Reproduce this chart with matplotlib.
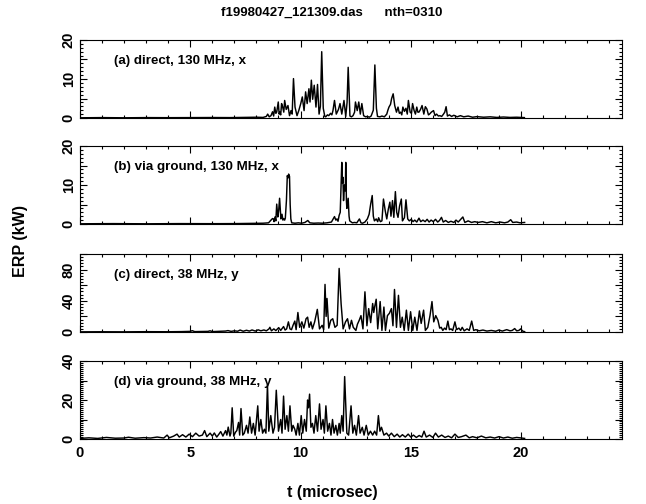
import numpy as np
import matplotlib
matplotlib.use('Agg')
import matplotlib.pyplot as plt
from matplotlib.ticker import MultipleLocator, FuncFormatter

plt.rcParams['font.family'] = ['Liberation Sans', 'DejaVu Sans']
plt.rcParams['font.weight'] = 'bold'

TITLE = 'f19980427_121309.das      nth=0310'
T_MAX = 24.576  # 1024 samples

labels = ['(a) direct, 130 MHz, x', '(b) via ground, 130 MHz, x',
          '(c) direct, 38 MHz, y', '(d) via ground, 38 MHz, y']
ylims = [20, 20, 100, 40]

# (t [microsec], ERP [kW])
pts_a = [(0.0, 0.05), (1.0, 0.1), (2.0, 0.05), (3.0, 0.1), (4.0, 0.08), (5.0, 0.1), (6.0, 0.12), (6.8, 0.1),
         (7.5, 0.15), (8.0, 0.2), (8.3, 0.15), (8.45, 0.4), (8.51, 1.0), (8.58, 0.3), (8.66, 0.6), (8.73, 1.6),
         (8.78, 0.5), (8.83, 2.8), (8.88, 1.2), (8.92, 1.5), (8.99, 4.1), (9.03, 1.0), (9.06, 1.5), (9.10, 0.8),
         (9.14, 3.7), (9.19, 2.8), (9.24, 1.5), (9.28, 4.5), (9.35, 2.2), (9.43, 3.2), (9.50, 0.6), (9.57, 1.9),
         (9.62, 1.0), (9.68, 10.1), (9.75, 2.8), (9.84, 0.6), (9.92, 1.9), (10.01, 3.7), (10.08, 5.4), (10.16, 1.9),
         (10.23, 6.7), (10.30, 3.7), (10.38, 7.5), (10.43, 4.1), (10.49, 9.7), (10.55, 4.8), (10.62, 8.4),
         (10.70, 2.8), (10.77, 8.6), (10.84, 1.0), (10.90, 3.0), (10.96, 17.0), (11.03, 2.5), (11.10, 0.4),
         (11.14, 0.3), (11.22, 0.8), (11.28, 0.6), (11.36, 1.2), (11.42, 0.8), (11.47, 1.9), (11.54, 4.5),
         (11.62, 1.0), (11.72, 2.2), (11.79, 3.7), (11.87, 1.0), (11.97, 4.5), (12.05, 0.4), (12.11, 4.0),
         (12.16, 13.0), (12.24, 0.5), (12.31, 0.3), (12.38, 0.6), (12.45, 1.5), (12.49, 4.1), (12.57, 1.9),
         (12.64, 4.1), (12.71, 1.0), (12.78, 3.7), (12.86, 0.6), (12.95, 0.3), (13.03, 0.4), (13.12, 0.2),
         (13.20, 0.5), (13.30, 2.0), (13.37, 13.6), (13.44, 2.5), (13.49, 0.4), (13.60, 0.3), (13.69, 0.5),
         (13.80, 0.3), (13.91, 1.0), (13.96, 2.0), (14.01, 2.8), (14.08, 3.5), (14.13, 5.0), (14.20, 6.2),
         (14.27, 3.2), (14.35, 1.5), (14.42, 2.8), (14.48, 1.2), (14.54, 1.5), (14.59, 0.8), (14.64, 2.8),
         (14.71, 1.7), (14.78, 2.5), (14.84, 1.0), (14.89, 4.5), (14.97, 1.5), (15.03, 1.2), (15.08, 3.7),
         (15.15, 1.9), (15.21, 1.0), (15.27, 2.8), (15.32, 1.5), (15.37, 1.5), (15.44, 2.2), (15.51, 3.2),
         (15.59, 1.0), (15.66, 2.9), (15.73, 2.3), (15.80, 0.8), (15.85, 1.0), (15.93, 1.5), (16.03, 1.9),
         (16.10, 0.6), (16.17, 1.0), (16.25, 0.5), (16.32, 0.6), (16.40, 0.4), (16.47, 0.9), (16.54, 1.5),
         (16.60, 2.9), (16.66, 0.5), (16.75, 0.8), (16.85, 0.4), (16.95, 0.7), (17.1, 0.3), (17.25, 0.6),
         (17.4, 0.3), (17.6, 0.5), (17.8, 0.2), (18.0, 0.35), (18.3, 0.2), (18.6, 0.3), (18.9, 0.15),
         (19.2, 0.25), (19.5, 0.15), (19.8, 0.2), (20.15, 0.1)]

pts_b = [(0.0, 0.05), (1.5, 0.1), (3.0, 0.05), (4.5, 0.1), (6.0, 0.08), (7.0, 0.1), (7.8, 0.15), (8.3, 0.2),
         (8.55, 0.3), (8.66, 1.0), (8.73, 1.4), (8.77, 1.3), (8.80, 0.6), (8.84, 1.8), (8.88, 0.8), (8.92, 5.1),
         (8.97, 1.8), (9.01, 3.5), (9.05, 6.6), (9.08, 4.0), (9.11, 1.3), (9.16, 2.5), (9.20, 1.0), (9.24, 1.4),
         (9.28, 1.0), (9.31, 1.5), (9.36, 6.0), (9.40, 12.4), (9.43, 11.8), (9.46, 12.8), (9.50, 12.2),
         (9.53, 5.0), (9.56, 1.3), (9.60, 0.3), (9.75, 0.2), (9.90, 0.3), (10.05, 0.2), (10.20, 0.4),
         (10.33, 0.9), (10.42, 0.3), (10.6, 0.2), (10.8, 0.25), (11.0, 0.2), (11.2, 0.3), (11.4, 0.5),
         (11.54, 1.9), (11.60, 1.0), (11.65, 1.3), (11.70, 0.7), (11.75, 2.2), (11.80, 3.0), (11.87, 15.8),
         (11.90, 10.5), (11.92, 12.0), (11.95, 6.0), (11.97, 8.0), (12.00, 10.0), (12.03, 8.5), (12.05, 15.8),
         (12.08, 6.0), (12.10, 4.0), (12.16, 6.6), (12.20, 2.0), (12.23, 0.8), (12.35, 0.3), (12.45, 0.4),
         (12.55, 0.3), (12.67, 1.3), (12.74, 0.3), (12.81, 0.2), (12.92, 0.5), (13.03, 1.3), (13.11, 2.5),
         (13.18, 5.1), (13.25, 7.3), (13.30, 2.0), (13.35, 0.8), (13.43, 1.3), (13.50, 0.6), (13.54, 1.6),
         (13.62, 0.6), (13.69, 0.8), (13.76, 6.4), (13.84, 3.4), (13.91, 1.3), (13.98, 3.8), (14.05, 5.6),
         (14.10, 2.0), (14.17, 6.0), (14.23, 1.7), (14.30, 8.3), (14.36, 3.0), (14.42, 1.7), (14.49, 4.6),
         (14.57, 6.4), (14.62, 0.8), (14.66, 1.2), (14.71, 1.6), (14.78, 6.2), (14.86, 1.3), (14.93, 0.8),
         (15.02, 1.2), (15.10, 0.6), (15.18, 1.0), (15.27, 0.5), (15.37, 1.5), (15.45, 0.6), (15.55, 1.0),
         (15.65, 0.6), (15.74, 1.2), (15.83, 0.5), (15.92, 1.0), (16.02, 0.6), (16.12, 1.2), (16.22, 0.5),
         (16.30, 0.9), (16.39, 1.7), (16.47, 0.5), (16.58, 0.9), (16.70, 0.4), (16.82, 0.7), (16.95, 0.4),
         (17.05, 1.0), (17.15, 0.5), (17.36, 1.8), (17.45, 0.4), (17.6, 0.8), (17.75, 0.4), (17.9, 0.6),
         (18.05, 0.4), (18.25, 0.6), (18.45, 0.3), (18.65, 0.6), (18.85, 0.3), (19.05, 0.5), (19.25, 0.3),
         (19.4, 0.5), (19.53, 1.1), (19.62, 0.4), (19.8, 0.5), (19.95, 0.3), (20.16, 0.4)]

pts_c = [(0.0, 0.2), (1.0, 0.3), (2.0, 0.2), (3.0, 0.4), (4.0, 0.3), (4.6, 0.5), (5.0, 0.8), (5.09, 1.7),
         (5.2, 0.5), (5.5, 0.6), (5.8, 0.8), (5.9, 1.5), (6.0, 0.5), (6.3, 0.8), (6.6, 1.2), (6.71, 1.8),
         (6.85, 0.8), (7.0, 1.5), (7.15, 1.0), (7.26, 2.5), (7.4, 1.0), (7.55, 2.2), (7.68, 1.2), (7.8, 2.6),
         (7.95, 1.2), (8.08, 2.8), (8.2, 1.5), (8.34, 2.6), (8.45, 1.5), (8.57, 4.0), (8.61, 6.0), (8.68, 1.5),
         (8.79, 4.0), (8.88, 1.8), (9.01, 5.6), (9.1, 2.0), (9.23, 7.0), (9.30, 2.5), (9.37, 4.0), (9.45, 13.0),
         (9.52, 4.0), (9.59, 3.0), (9.66, 8.6), (9.74, 14.0), (9.80, 3.0), (9.88, 25.0), (9.96, 6.0),
         (10.06, 13.0), (10.15, 5.0), (10.25, 17.0), (10.32, 19.0), (10.39, 6.0), (10.47, 13.0), (10.54, 4.0),
         (10.64, 13.0), (10.76, 29.0), (10.86, 4.0), (10.98, 8.6), (11.05, 3.0), (11.11, 61.0), (11.16, 20.0),
         (11.20, 43.0), (11.28, 5.0), (11.37, 15.0), (11.46, 17.0), (11.56, 6.0), (11.66, 8.6), (11.75, 81.5),
         (11.84, 36.0), (11.93, 4.0), (12.04, 13.0), (12.13, 17.0), (12.22, 4.0), (12.31, 15.0), (12.39, 6.0),
         (12.51, 2.0), (12.58, 10.0), (12.66, 15.0), (12.74, 21.0), (12.83, 4.0), (12.92, 51.5), (13.01, 8.0),
         (13.09, 30.0), (13.18, 12.0), (13.27, 36.5), (13.32, 25.0), (13.36, 32.0), (13.43, 42.0), (13.50, 4.0),
         (13.61, 39.0), (13.69, 2.0), (13.78, 32.0), (13.85, 2.0), (13.94, 21.0), (14.03, 24.0), (14.12, 30.0),
         (14.19, 8.0), (14.26, 54.5), (14.35, 6.0), (14.44, 47.0), (14.53, 6.0), (14.61, 19.0), (14.70, 2.0),
         (14.80, 28.0), (14.89, 2.0), (14.99, 26.0), (15.09, 2.0), (15.18, 19.0), (15.28, 2.0), (15.39, 27.0),
         (15.47, 11.0), (15.58, 28.0), (15.66, 2.0), (15.77, 6.0), (15.87, 21.0), (15.96, 39.0), (16.04, 13.0),
         (16.13, 21.0), (16.23, 15.0), (16.31, 5.0), (16.38, 6.0), (16.45, 2.0), (16.53, 5.0), (16.60, 3.0),
         (16.68, 14.0), (16.75, 3.0), (16.82, 4.0), (16.9, 2.0), (17.0, 13.0), (17.08, 3.0), (17.18, 5.0),
         (17.26, 2.0), (17.33, 6.0), (17.42, 1.5), (17.55, 4.0), (17.65, 2.0), (17.76, 14.0), (17.85, 2.0),
         (17.95, 3.0), (18.1, 1.5), (18.27, 2.5), (18.45, 1.2), (18.65, 2.0), (18.85, 1.0), (18.99, 2.5),
         (19.15, 1.2), (19.35, 3.0), (19.5, 1.5), (19.6, 2.0), (19.71, 4.4), (19.8, 1.5), (19.9, 2.0),
         (19.98, 4.0), (20.08, 1.0), (20.16, 0.5)]

pts_d = [(0.0, 0.3), (0.4, 0.6), (0.8, 0.3), (1.2, 0.8), (1.6, 0.4), (2.0, 0.5), (2.2, 0.9), (2.5, 0.4),
         (2.9, 0.7), (3.2, 0.5), (3.5, 1.0), (3.8, 0.5), (3.95, 2.0), (4.05, 0.6), (4.25, 1.5), (4.4, 2.5),
         (4.5, 1.0), (4.65, 2.2), (4.8, 1.0), (4.95, 2.5), (5.1, 1.2), (5.25, 3.0), (5.4, 1.5), (5.55, 2.0),
         (5.65, 4.3), (5.75, 1.2), (5.9, 3.0), (6.0, 1.5), (6.09, 3.1), (6.2, 1.0), (6.3, 2.5), (6.38, 3.8),
         (6.48, 1.5), (6.6, 4.3), (6.66, 2.0), (6.72, 6.1), (6.80, 1.5), (6.84, 3.0), (6.90, 16.0), (6.97, 1.5),
         (7.05, 3.5), (7.11, 4.3), (7.19, 8.5), (7.24, 2.0), (7.30, 15.6), (7.38, 2.0), (7.45, 3.0), (7.55, 7.0),
         (7.62, 3.0), (7.70, 11.3), (7.78, 3.0), (7.86, 8.0), (7.94, 2.0), (8.06, 17.0), (8.12, 4.0),
         (8.20, 10.0), (8.28, 3.0), (8.36, 5.0), (8.43, 3.0), (8.50, 28.0), (8.56, 4.0), (8.65, 12.0),
         (8.75, 3.0), (8.82, 6.0), (8.90, 25.0), (9.00, 4.0), (9.10, 10.0), (9.16, 3.0), (9.23, 22.0),
         (9.30, 5.0), (9.38, 12.0), (9.45, 4.0), (9.52, 17.0), (9.60, 4.0), (9.66, 7.0), (9.74, 5.0),
         (9.80, 2.0), (9.88, 8.0), (9.95, 2.0), (10.03, 12.0), (10.10, 3.0), (10.18, 10.0), (10.26, 4.0),
         (10.32, 20.0), (10.36, 16.0), (10.41, 23.0), (10.47, 6.0), (10.54, 8.0), (10.61, 3.0), (10.69, 12.0),
         (10.77, 4.0), (10.86, 18.0), (10.93, 5.0), (11.02, 10.0), (11.08, 3.0), (11.15, 17.0), (11.23, 4.0),
         (11.31, 8.0), (11.38, 2.0), (11.45, 10.0), (11.52, 3.0), (11.60, 7.0), (11.67, 2.0), (11.75, 8.0),
         (11.80, 3.0), (11.87, 12.0), (11.93, 4.0), (12.00, 32.0), (12.10, 3.0), (12.18, 2.0), (12.29, 17.0),
         (12.37, 3.0), (12.45, 7.0), (12.53, 2.0), (12.63, 12.0), (12.70, 3.0), (12.80, 6.0), (12.88, 2.0),
         (12.98, 7.0), (13.07, 2.0), (13.17, 4.0), (13.27, 2.0), (13.36, 4.0), (13.45, 2.0), (13.53, 12.0),
         (13.60, 4.0), (13.67, 6.0), (13.78, 2.0), (13.90, 3.0), (14.0, 1.5), (14.12, 3.0), (14.25, 1.2),
         (14.38, 2.5), (14.5, 1.0), (14.62, 2.2), (14.75, 1.0), (14.88, 2.5), (15.0, 1.0), (15.12, 2.0),
         (15.25, 0.8), (15.38, 1.8), (15.5, 1.0), (15.6, 4.0), (15.7, 1.0), (15.85, 2.0), (16.0, 0.8),
         (16.12, 3.0), (16.25, 1.0), (16.4, 2.0), (16.55, 0.8), (16.7, 1.5), (16.85, 0.6), (17.0, 2.5),
         (17.15, 0.8), (17.3, 1.2), (17.5, 2.0), (17.65, 0.6), (17.8, 1.2), (18.0, 0.6), (18.2, 1.5),
         (18.4, 0.6), (18.6, 1.0), (18.8, 0.5), (19.0, 1.2), (19.2, 0.5), (19.4, 1.0), (19.6, 0.4),
         (19.8, 0.8), (20.16, 0.3)]

series = [pts_a, pts_b, pts_c, pts_d]

# y ticks per panel: (major step, minor step, label step)
yticks = [(5, 1, 10), (5, 1, 10), (20, 4, 40), (10, 1, 20)]

fig = plt.figure(figsize=(6.46, 5.04), dpi=100)
W, H = 646.0, 504.0
left, right = 80, 622
tops = [40, 146, 254, 361]
ph = 78

for i, (pts, lab, ymax, (maj, mnr, lstep)) in enumerate(zip(series, labels, ylims, yticks)):
    top = tops[i]
    ax = fig.add_axes([left / W, 1 - (top + ph) / H, (right - left) / W, ph / H])
    t, v = np.array(pts).T
    ax.plot(t, v, color='black', lw=1.05)
    ax.set_xlim(0, T_MAX)
    ax.set_ylim(0, ymax)
    ax.xaxis.set_major_locator(MultipleLocator(5))
    ax.xaxis.set_minor_locator(MultipleLocator(1))
    ax.yaxis.set_major_locator(MultipleLocator(maj))
    ax.yaxis.set_minor_locator(MultipleLocator(mnr))
    ax.yaxis.set_major_formatter(FuncFormatter(
        lambda y, p, s=lstep: f'{int(round(y))}' if abs(y / s - round(y / s)) < 1e-6 else ''))
    ax.tick_params(which='both', direction='in', top=True, right=True, width=0.8)
    ax.tick_params(which='major', length=5)
    ax.tick_params(which='minor', length=2.5)
    ax.tick_params(axis='y', labelsize=10.5, pad=3)
    for tl in ax.get_yticklabels():
        tl.set_rotation(90)
        tl.set_va('center')
        tl.set_fontweight('bold')
    if i < 3:
        ax.tick_params(axis='x', labelbottom=False)
    else:
        ax.tick_params(axis='x', labelsize=10.5, pad=5)
        for tl in ax.get_xticklabels():
            tl.set_fontweight('bold')
    for s in ax.spines.values():
        s.set_linewidth(0.8)
    ax.text(0.062, 0.73, lab, transform=ax.transAxes, fontsize=9.6, fontweight='bold', va='center', ha='left')

cx = (left + 0.465 * (right - left)) / W
fig.text(cx, 1 - 13 / H, TITLE, ha='center', va='center', fontsize=9.5, fontweight='bold')
fig.text(cx, 1 - 493 / H, 't (microsec)', ha='center', va='center', fontsize=11.5, fontweight='bold')
fig.text(20 / W, 1 - 241 / H, 'ERP (kW)', ha='center', va='center', rotation=90, fontsize=11.5, fontweight='bold')

fig.savefig('out.png', dpi=100)
